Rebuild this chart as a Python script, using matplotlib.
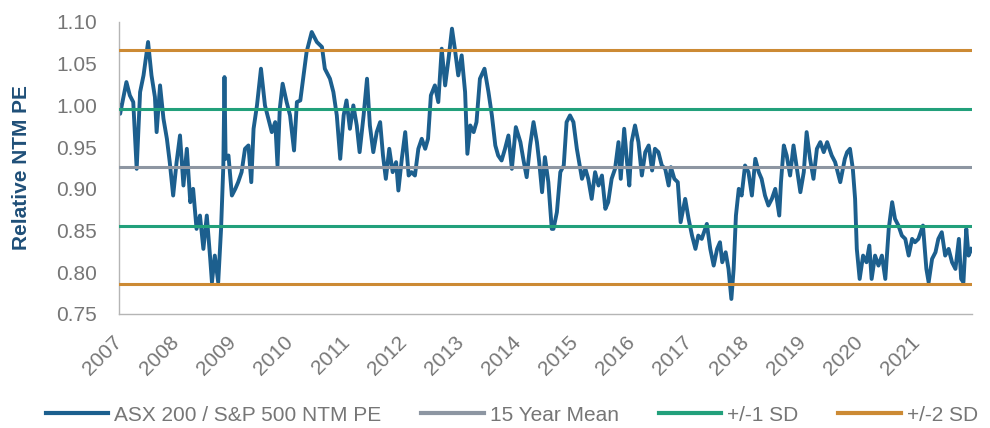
import matplotlib
matplotlib.use("Agg")
import matplotlib.pyplot as plt
from matplotlib.lines import Line2D
from matplotlib.transforms import ScaledTranslation

plt.rcParams['font.family'] = ['Liberation Sans', 'DejaVu Sans']

# relative forward PE, ASX 200 vs S&P 500 (decimal years)
dates = [
    2007.00, 2007.02, 2007.13, 2007.19, 2007.25, 2007.31, 2007.37, 2007.43, 2007.51, 2007.57,
    2007.63, 2007.66, 2007.72, 2007.78, 2007.84, 2007.89, 2007.95, 2008.01, 2008.07, 2008.13,
    2008.19, 2008.25, 2008.30, 2008.36, 2008.42, 2008.48, 2008.54, 2008.60, 2008.63, 2008.68,
    2008.74, 2008.79, 2008.83, 2008.85, 2008.87, 2008.92, 2008.98, 2009.04, 2009.09, 2009.15,
    2009.21, 2009.27, 2009.32, 2009.36, 2009.42, 2009.49,
    2009.56, 2009.62, 2009.68, 2009.74, 2009.78, 2009.82, 2009.87, 2009.94, 2010.00, 2010.07,
    2010.12, 2010.18, 2010.23, 2010.29, 2010.38, 2010.47, 2010.56, 2010.61, 2010.70, 2010.76,
    2010.82, 2010.88, 2010.94, 2010.99, 2011.05, 2011.11, 2011.17, 2011.22, 2011.29, 2011.35,
    2011.40, 2011.46, 2011.52, 2011.58, 2011.63, 2011.68, 2011.74, 2011.80, 2011.86, 2011.90,
    2011.96, 2012.02,
    2012.08, 2012.13, 2012.19, 2012.25, 2012.31, 2012.37, 2012.42, 2012.47, 2012.54, 2012.60,
    2012.66, 2012.72, 2012.78, 2012.84, 2012.89, 2012.95, 2013.01, 2013.07, 2013.11, 2013.16,
    2013.22, 2013.27, 2013.33, 2013.41, 2013.48, 2013.54, 2013.60, 2013.65, 2013.71, 2013.77,
    2013.83, 2013.89, 2013.96, 2014.04, 2014.09, 2014.15, 2014.21, 2014.27, 2014.33, 2014.37,
    2014.42, 2014.47, 2014.53, 2014.59,
    2014.62, 2014.68, 2014.74, 2014.80, 2014.85, 2014.91, 2014.97, 2015.03, 2015.09, 2015.12,
    2015.18, 2015.23, 2015.29, 2015.35, 2015.41, 2015.47, 2015.53, 2015.58, 2015.64, 2015.70,
    2015.76, 2015.80, 2015.86, 2015.91, 2015.95, 2015.99, 2016.05, 2016.11, 2016.17, 2016.23,
    2016.29, 2016.35, 2016.40, 2016.46, 2016.52, 2016.58, 2016.64, 2016.68, 2016.74, 2016.80,
    2016.85, 2016.93, 2016.99, 2017.05, 2017.11, 2017.16,
    2017.22, 2017.31, 2017.37, 2017.43, 2017.49, 2017.54, 2017.58, 2017.64, 2017.69, 2017.74,
    2017.78, 2017.82, 2017.87, 2017.92, 2017.98, 2018.04, 2018.10, 2018.16, 2018.22, 2018.27,
    2018.33, 2018.39, 2018.45, 2018.51, 2018.58, 2018.61, 2018.66, 2018.71, 2018.77, 2018.83,
    2018.89, 2018.95, 2019.01, 2019.06, 2019.12, 2019.18, 2019.24, 2019.30, 2019.36, 2019.42,
    2019.50, 2019.56, 2019.65, 2019.73,
    2019.77, 2019.82, 2019.87, 2019.91, 2019.94, 2019.99, 2020.05, 2020.11, 2020.16, 2020.20,
    2020.26, 2020.32, 2020.38, 2020.44, 2020.50, 2020.56, 2020.61, 2020.67, 2020.73, 2020.79,
    2020.85, 2020.91, 2020.96, 2021.02, 2021.10, 2021.16, 2021.20, 2021.26, 2021.32, 2021.37,
    2021.43, 2021.49, 2021.55, 2021.61, 2021.67, 2021.73, 2021.77, 2021.81, 2021.86, 2021.90,
    2021.95,
]
rel_pe = [
    1.000, 0.990, 1.028, 1.012, 1.004, 0.924, 1.016, 1.036, 1.076, 1.036,
    1.010, 0.968, 1.024, 0.984, 0.960, 0.932, 0.892, 0.932, 0.964, 0.904,
    0.948, 0.884, 0.900, 0.852, 0.868, 0.828, 0.868, 0.816, 0.788, 0.820,
    0.788, 0.852, 0.928, 1.034, 0.936, 0.940, 0.892, 0.900, 0.908, 0.920,
    0.948, 0.952, 0.908, 0.972, 1.000, 1.044,
    1.000, 0.984, 0.968, 0.980, 0.928, 0.996, 1.026, 1.004, 0.988, 0.946,
    1.004, 1.006, 1.032, 1.064, 1.088, 1.076, 1.070, 1.044, 1.032, 1.016,
    0.988, 0.936, 0.988, 1.006, 0.972, 1.000, 0.976, 0.944, 0.988, 1.032,
    0.976, 0.944, 0.968, 0.980, 0.940, 0.912, 0.948, 0.920, 0.932, 0.898,
    0.936, 0.968,
    0.916, 0.920, 0.916, 0.948, 0.960, 0.948, 0.960, 1.012, 1.024, 1.004,
    1.068, 1.024, 1.056, 1.092, 1.068, 1.036, 1.060, 1.016, 0.942, 0.976,
    0.968, 0.980, 1.032, 1.044, 1.016, 0.988, 0.952, 0.940, 0.934, 0.948,
    0.964, 0.924, 0.974, 0.956, 0.936, 0.914, 0.952, 0.980, 0.956, 0.932,
    0.896, 0.938, 0.908, 0.852,
    0.852, 0.872, 0.920, 0.928, 0.980, 0.988, 0.980, 0.948, 0.924, 0.912,
    0.924, 0.912, 0.888, 0.920, 0.904, 0.916, 0.876, 0.884, 0.912, 0.924,
    0.956, 0.912, 0.972, 0.932, 0.904, 0.956, 0.976, 0.956, 0.916, 0.944,
    0.952, 0.922, 0.948, 0.944, 0.928, 0.924, 0.904, 0.926, 0.912, 0.908,
    0.860, 0.888, 0.864, 0.844, 0.828, 0.844,
    0.840, 0.858, 0.828, 0.808, 0.828, 0.836, 0.812, 0.824, 0.804, 0.768,
    0.804, 0.868, 0.900, 0.892, 0.928, 0.920, 0.892, 0.936, 0.920, 0.912,
    0.892, 0.880, 0.888, 0.900, 0.868, 0.908, 0.952, 0.940, 0.916, 0.952,
    0.924, 0.896, 0.920, 0.968, 0.936, 0.912, 0.948, 0.956, 0.944, 0.956,
    0.940, 0.932, 0.908, 0.936,
    0.944, 0.948, 0.924, 0.888, 0.828, 0.792, 0.820, 0.812, 0.832, 0.792,
    0.820, 0.808, 0.820, 0.792, 0.852, 0.884, 0.864, 0.856, 0.844, 0.840,
    0.820, 0.840, 0.836, 0.840, 0.856, 0.804, 0.788, 0.816, 0.824, 0.840,
    0.848, 0.820, 0.828, 0.812, 0.804, 0.840, 0.792, 0.788, 0.852, 0.820,
    0.828,
]

mean_15y = 0.926
sd1_band = [0.996, 0.856]
sd2_band = [1.066, 0.786]

years = list(range(2007, 2022))
x_end = 2021.96

blue = '#1c5f8e'
gray = '#8d96a2'
green = '#22a07b'
orange = '#cc8a34'
text_gray = '#767676'

fig = plt.figure(figsize=(9.9, 4.28), dpi=100)
ax = fig.add_axes([0.1202, 0.2664, 0.8616, 0.6822])

ax.plot(dates, rel_pe, color=blue, lw=2.8, zorder=2, solid_joinstyle='round')
ax.axhline(mean_15y, color=gray, lw=2.2, zorder=3)
for v in sd1_band:
    ax.axhline(v, color=green, lw=2.2, zorder=3)
for v in sd2_band:
    ax.axhline(v, color=orange, lw=2.2, zorder=3)

ax.set_xlim(2007, x_end)
ax.set_ylim(0.75, 1.10)
ax.set_yticks([0.75, 0.80, 0.85, 0.90, 0.95, 1.00, 1.05, 1.10])
ax.set_yticklabels([f"{t:.2f}" for t in ax.get_yticks()])
ax.set_xticks(years)
ax.set_xticklabels([str(y) for y in years], rotation=45, ha='right', va='center',
                   rotation_mode='anchor')
# nudge the slanted year labels a little to the left
shift = ScaledTranslation(-5 / 100, 0, fig.dpi_scale_trans)
for lbl in ax.get_xticklabels():
    lbl.set_transform(lbl.get_transform() + shift)

ax.tick_params(axis='y', length=0, pad=16, labelsize=15, labelcolor=text_gray)
ax.tick_params(axis='x', length=0, pad=18, labelsize=15, labelcolor=text_gray)

for side in ['top', 'right']:
    ax.spines[side].set_visible(False)
for side in ['left', 'bottom']:
    ax.spines[side].set_color('#b5b5b5')
    ax.spines[side].set_linewidth(1.0)

ax.set_ylabel('Relative NTM PE', fontsize=15, fontweight='bold', color='#1f4f78', labelpad=18)

handles = [
    Line2D([], [], color=blue, lw=3),
    Line2D([], [], color=gray, lw=3),
    Line2D([], [], color=green, lw=3),
    Line2D([], [], color=orange, lw=3),
]
labels = ['ASX 200 / S&P 500 NTM PE', '15 Year Mean', '+/-1 SD', '+/-2 SD']
fig.legend(handles, labels, loc='center', bbox_to_anchor=(0.517, 0.03), ncol=4,
           frameon=False, fontsize=15, labelcolor=text_gray, handlelength=3.0,
           handletextpad=0.3, columnspacing=1.9)

fig.savefig('out.png', dpi=100, facecolor='white')
